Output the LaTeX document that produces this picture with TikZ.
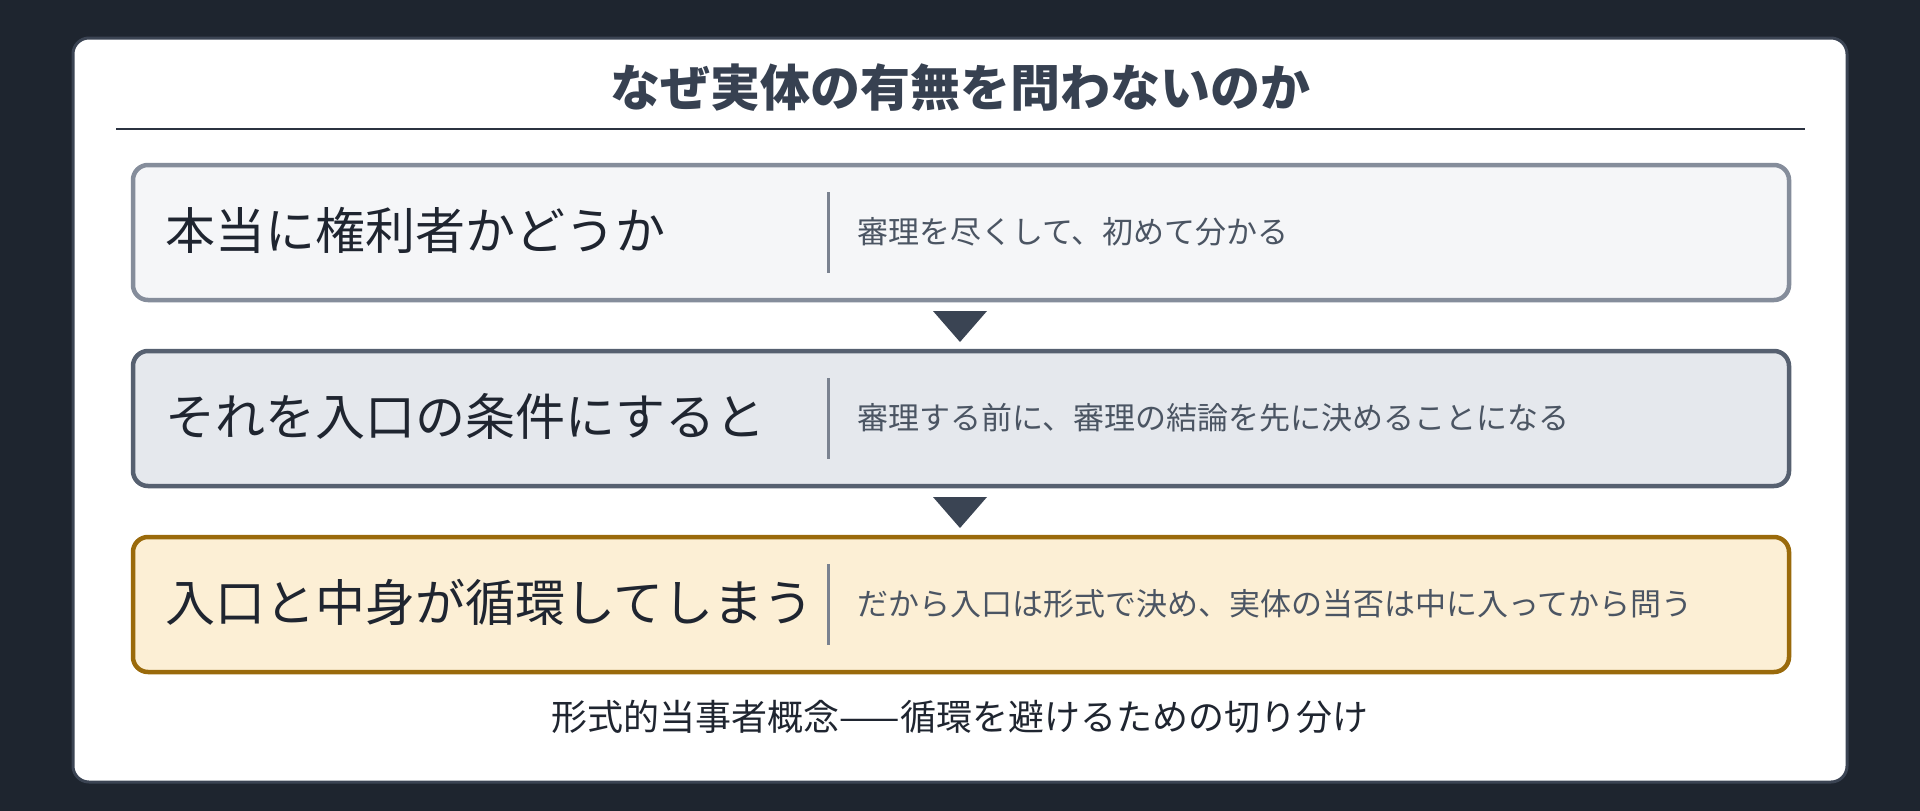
\documentclass[tikz,border=0pt]{standalone}
\usepackage{fontspec}
\setmainfont{Noto Sans CJK JP}
\definecolor{bgdark}{HTML}{1E252F}
\definecolor{cardborder}{HTML}{3B4453}
\definecolor{titlecol}{HTML}{374151}
\definecolor{rulecol}{HTML}{2B3240}
\definecolor{fillA}{HTML}{F5F6F8}
\definecolor{drawA}{HTML}{858D9B}
\definecolor{fillB}{HTML}{E5E8ED}
\definecolor{drawB}{HTML}{566070}
\definecolor{fillC}{HTML}{FCEFD5}
\definecolor{drawC}{HTML}{9A6A0B}
\definecolor{maintext}{HTML}{1F2530}
\definecolor{desctext}{HTML}{4B5563}
\definecolor{divcol}{HTML}{7A8290}
\definecolor{tricol}{HTML}{3A4453}
\tikzset{
  stepbox/.style={rounded corners=15pt, line width=4.5pt},
  mainlabel/.style={anchor=west, inner sep=0pt, text=maintext, font=\fontsize{50}{60}\selectfont},
  desclabel/.style={anchor=west, inner sep=0pt, text=desctext, font=\fontsize{31}{37}\selectfont},
  divider/.style={draw=divcol, line width=3pt},
  flowtri/.style={fill=tricol, draw=none},
}
\begin{document}
\begin{tikzpicture}[x=1pt,y=-1pt]
\useasboundingbox (0,0) rectangle (1920,811);
\fill[bgdark] (0,0) rectangle (1920,811);
% card
\draw[cardborder, line width=3pt, fill=white, rounded corners=16pt] (73,38) rectangle (1847,782);
% title
\node[inner sep=0pt, text=titlecol, font=\fontsize{50}{60}\selectfont\bfseries] (title) at (960,88) {なぜ実体の有無を問わないのか};
\draw[rulecol, line width=2pt] (116,128.5) coordinate (rl) -- (1805,128.5) coordinate (rr);
% box 1
\draw[stepbox, draw=drawA, fill=fillA] (133,165) rectangle (1789,300);
\coordinate (b1) at (960,232);
\node[mainlabel] (m1) at (165,230) {本当に権利者かどうか};
\coordinate (d1t) at (828,192); \coordinate (d1b) at (828,273);
\draw[divider] (d1t) -- (d1b);
\node[desclabel] (s1) at (857,232) {審理を尽くして、初めて分かる};
% arrow 1
\coordinate (t1a) at (933,311); \coordinate (t1b) at (987,311); \coordinate (t1c) at (960,342);
\fill[flowtri] (t1a) -- (t1b) -- (t1c) -- cycle;
% box 2
\draw[stepbox, draw=drawB, fill=fillB] (133,351) rectangle (1789,486);
\node[mainlabel] (m2) at (165,416) {それを入口の条件にすると};
\coordinate (d2t) at (828,378); \coordinate (d2b) at (828,459);
\draw[divider] (d2t) -- (d2b);
\node[desclabel] (s2) at (857,418) {審理する前に、審理の結論を先に決めることになる};
% arrow 2
\coordinate (t2a) at (933,497); \coordinate (t2b) at (987,497); \coordinate (t2c) at (960,528);
\fill[flowtri] (t2a) -- (t2b) -- (t2c) -- cycle;
% box 3
\draw[stepbox, draw=drawC, fill=fillC] (133,537) rectangle (1789,672);
\node[mainlabel] (m3) at (165,602) {入口と中身が循環してしまう};
\coordinate (d3t) at (828,564); \coordinate (d3b) at (828,645);
\draw[divider] (d3t) -- (d3b);
\node[desclabel] (s3) at (857,604) {だから入口は形式で決め、実体の当否は中に入ってから問う};
% caption
\node[inner sep=0pt, text=maintext, font=\fontsize{36}{43}\selectfont] (cap) at (960,717) {形式的当事者概念——循環を避けるための切り分け};
\end{tikzpicture}
\end{document}
